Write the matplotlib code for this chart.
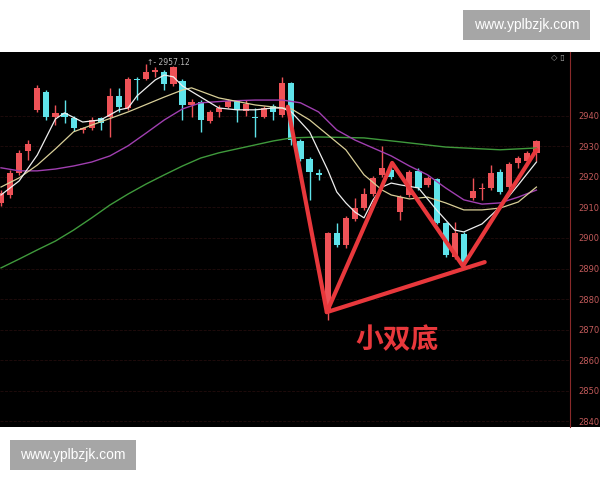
# Candlestick screenshot: short double bottom marked on a 60-bar index chart.
import numpy as np
import matplotlib as mpl; mpl.use('Agg')
import matplotlib.pyplot as plt
from matplotlib.patches import Rectangle

RED = '#ee5257'; CYAN = '#5fe3ea'; MARK = '#e8383c'

opens = [2911.5, 2914.1, 2921.3, 2928.5, 2942.0, 2947.9, 2939.7, 2941.0, 2939.3, 2935.4,
         2936.1, 2939.3, 2939.7, 2946.6, 2942.6, 2952.1, 2952.1, 2954.4, 2954.4, 2950.5,
         2951.5, 2943.6, 2944.6, 2938.4, 2941.3, 2943.0, 2944.9, 2941.6, 2939.7, 2939.7,
         2943.3, 2940.3, 2950.8, 2931.8, 2925.9, 2921.1, 2876.4, 2901.6, 2897.7, 2906.2,
         2909.8, 2914.4, 2920.7, 2922.3, 2908.5, 2914.1, 2922.0, 2917.4, 2919.3, 2904.9,
         2893.8, 2901.3, 2913.1, 2916.1, 2916.4, 2921.6, 2916.7, 2924.6, 2925.2, 2927.9]
closes = [2914.8, 2921.3, 2927.9, 2930.8, 2949.2, 2939.7, 2941.0, 2939.7, 2936.1, 2936.1,
          2938.7, 2937.7, 2946.6, 2943.0, 2952.1, 2951.8, 2954.4, 2955.1, 2950.5, 2956.1,
          2943.6, 2944.6, 2938.7, 2941.3, 2942.6, 2944.9, 2942.0, 2943.9, 2939.3, 2942.6,
          2941.3, 2950.8, 2932.1, 2925.9, 2921.6, 2920.8, 2901.6, 2897.7, 2906.6, 2909.8,
          2914.4, 2919.7, 2923.0, 2920.0, 2913.4, 2921.6, 2916.4, 2919.7, 2904.9, 2894.4,
          2901.6, 2891.8, 2915.4, 2916.4, 2921.3, 2915.1, 2924.3, 2926.2, 2927.9, 2931.8]
highs = [2915.7, 2922.3, 2928.9, 2932.1, 2950.2, 2948.5, 2943.6, 2945.2, 2940.0, 2936.4,
         2939.7, 2939.7, 2949.2, 2949.2, 2952.8, 2952.8, 2957.1, 2956.1, 2955.1, 2956.5,
         2952.1, 2945.6, 2945.2, 2942.0, 2943.6, 2945.6, 2945.2, 2945.2, 2942.6, 2943.3,
         2943.9, 2952.8, 2951.1, 2932.5, 2926.6, 2922.6, 2902.0, 2904.9, 2907.2, 2913.1,
         2916.4, 2920.3, 2930.2, 2923.6, 2914.1, 2922.3, 2923.0, 2920.3, 2919.7, 2905.2,
         2905.2, 2902.0, 2919.7, 2918.0, 2923.9, 2922.6, 2924.9, 2926.9, 2928.5, 2932.1]
lows = [2910.5, 2913.1, 2920.7, 2925.6, 2941.3, 2938.7, 2937.0, 2937.7, 2935.1, 2934.4,
        2935.4, 2935.4, 2933.1, 2941.3, 2942.0, 2945.2, 2951.8, 2952.8, 2948.5, 2949.8,
        2938.7, 2939.7, 2934.8, 2937.7, 2939.7, 2942.6, 2938.0, 2940.0, 2933.1, 2939.3,
        2938.7, 2939.7, 2930.5, 2925.2, 2912.5, 2919.0, 2873.1, 2897.0, 2896.7, 2905.6,
        2909.2, 2913.8, 2920.0, 2919.3, 2905.9, 2913.4, 2915.7, 2916.7, 2904.6, 2893.8,
        2893.1, 2890.5, 2912.5, 2912.5, 2915.7, 2914.4, 2916.1, 2923.0, 2924.6, 2925.2]

# moving averages (bar index, price)
ma5_i = [0, 2, 4, 6, 7, 9, 11, 13, 14, 15, 17, 18, 19, 20, 22, 24, 26, 28, 30, 31, 32, 34, 36,
         37, 38, 39, 40, 41, 42, 43, 44, 46, 48, 50, 51, 53, 55, 57, 59]
ma5 = [2914.1, 2918.7, 2927.2, 2939.0, 2941.0, 2938.0, 2938.7, 2942.0, 2942.6, 2946.6, 2951.8,
       2953.4, 2952.8, 2949.8, 2946.2, 2942.6, 2942.0, 2942.0, 2942.6, 2942.6, 2941.3, 2934.8,
       2922.3, 2915.1, 2911.5, 2908.5, 2906.6, 2912.5, 2916.7, 2918.0, 2917.4, 2916.4, 2909.2,
       2902.6, 2902.0, 2904.6, 2910.2, 2917.4, 2924.9]
ma10_i = [0, 2, 4, 6, 8, 10, 14, 18, 20, 21, 24, 28, 31, 32, 34, 36, 38, 40, 42, 43, 45, 47,
          49, 51, 53, 55, 57, 59]
ma10 = [2916.7, 2919.7, 2923.9, 2929.2, 2934.8, 2937.0, 2941.3, 2946.2, 2948.5, 2949.2, 2945.9,
        2943.6, 2942.6, 2942.3, 2938.7, 2933.8, 2928.9, 2920.7, 2915.7, 2914.1, 2912.8, 2913.4,
        2911.5, 2909.2, 2909.2, 2909.8, 2911.8, 2916.7]
ma20_i = [0, 2, 4, 6, 8, 10, 12, 14, 16, 18, 20, 22, 25, 28, 31, 33, 35, 37, 39, 41, 43, 45,
          47, 49, 51, 53, 55, 57, 59]
ma20 = [2923.0, 2922.0, 2922.0, 2922.6, 2923.6, 2924.9, 2926.9, 2930.2, 2934.4, 2938.7, 2942.3,
        2944.3, 2944.9, 2945.2, 2945.2, 2944.3, 2941.3, 2935.4, 2932.1, 2929.5, 2926.9, 2923.6,
        2920.7, 2916.4, 2912.5, 2911.1, 2911.5, 2913.4, 2915.7]
ma60_i = [0, 2, 4, 6, 8, 10, 12, 14, 16, 18, 20, 22, 24, 26, 28, 30, 32, 35, 40, 44, 49, 55, 59]
ma60 = [2890.2, 2893.1, 2896.1, 2899.0, 2902.6, 2906.6, 2910.8, 2914.4, 2917.7, 2920.7, 2923.6,
        2926.2, 2927.9, 2929.2, 2930.5, 2931.8, 2932.8, 2933.1, 2932.8, 2931.5, 2929.8, 2928.9,
        2929.5]

# hand-drawn double-bottom strokes
pattern_x = [31.6, 35.9, 43.1, 50.9, 59.0]
pattern_y = [2943.0, 2875.7, 2924.6, 2890.8, 2928.9]
neck_x = [35.9, 53.3]
neck_y = [2875.7, 2892.1]
yticks = list(range(2840, 2950, 10))

fig = plt.figure(figsize=(6, 4.8), dpi=100, facecolor='white')
fig.patches.append(Rectangle((0, 0.110), 1, 0.782, transform=fig.transFigure, fc='black', ec='none', zorder=-5))
ax = fig.add_axes([0, 0.110, 0.95, 0.782], facecolor='black')

x = np.arange(len(opens))
o = np.array(opens); c = np.array(closes)
cols = [RED if cc >= oo else CYAN for oo, cc in zip(o, c)]
ax.vlines(x, lows, highs, colors=cols, lw=1.0, zorder=2)
ax.bar(x, np.maximum(np.abs(c - o), 0.4), bottom=np.minimum(o, c), width=0.68, color=cols, zorder=3)

ax.plot(ma60_i, ma60, color='#3f9a3c', lw=1.0, zorder=4)
ax.plot(ma20_i, ma20, color='#a03fb0', lw=1.0, zorder=4)
ax.plot(ma10_i, ma10, color='#d9cf98', lw=0.9, zorder=4)
ax.plot(ma5_i, ma5, color='#eeeeee', lw=0.9, zorder=4)

ax.plot(pattern_x, pattern_y, color=MARK, lw=3, solid_capstyle='round', zorder=6)
ax.plot(neck_x, neck_y, color=MARK, lw=3, solid_capstyle='round', zorder=6)
ax.text(43.6, 2866.6, '小双底', color=MARK, fontsize=20, fontweight='bold', ha='center', va='center',
        family=['Noto Sans CJK SC', 'DejaVu Sans'], zorder=7)
ax.text(16.1, highs[16] + 0.4, '↑- 2957.12', color='#b8b8b8', fontsize=5.5, ha='left', va='center', zorder=7)

ax.set_xlim(-0.11, 62.7); ax.set_ylim(2838, 2961)
ax.set_xticks([])
ax.set_yticks(yticks)
ax.yaxis.tick_right()
ax.tick_params(axis='y', length=0, pad=6, labelsize=6, labelcolor='#c25a5a')
ax.grid(axis='y', color='#220c0c', lw=0.6, ls='--')
for s in ['top', 'left', 'bottom']: ax.spines[s].set_visible(False)
ax.spines['right'].set_color('#8a2a2a'); ax.spines['right'].set_linewidth(0.8)
fig.text(0.930, 0.880, '◇ ▯', color='#9a9a9a', fontsize=6, ha='center', va='center')

# site watermarks
for (x0, y0, w, h) in [(463, 10, 127, 30), (10, 440, 126, 30)]:
    fig.patches.append(Rectangle((x0 / 600, 1 - (y0 + h) / 480), w / 600, h / 480,
                                 transform=fig.transFigure, fc='#a6a6a6', ec='none', zorder=10))
    fig.text((x0 + w / 2) / 600, 1 - (y0 + h / 2) / 480, 'www.yplbzjk.com', color='white',
             fontsize=10, ha='center', va='center', family='Liberation Sans', zorder=11)

fig.savefig('out.png', dpi=100, facecolor='white')
